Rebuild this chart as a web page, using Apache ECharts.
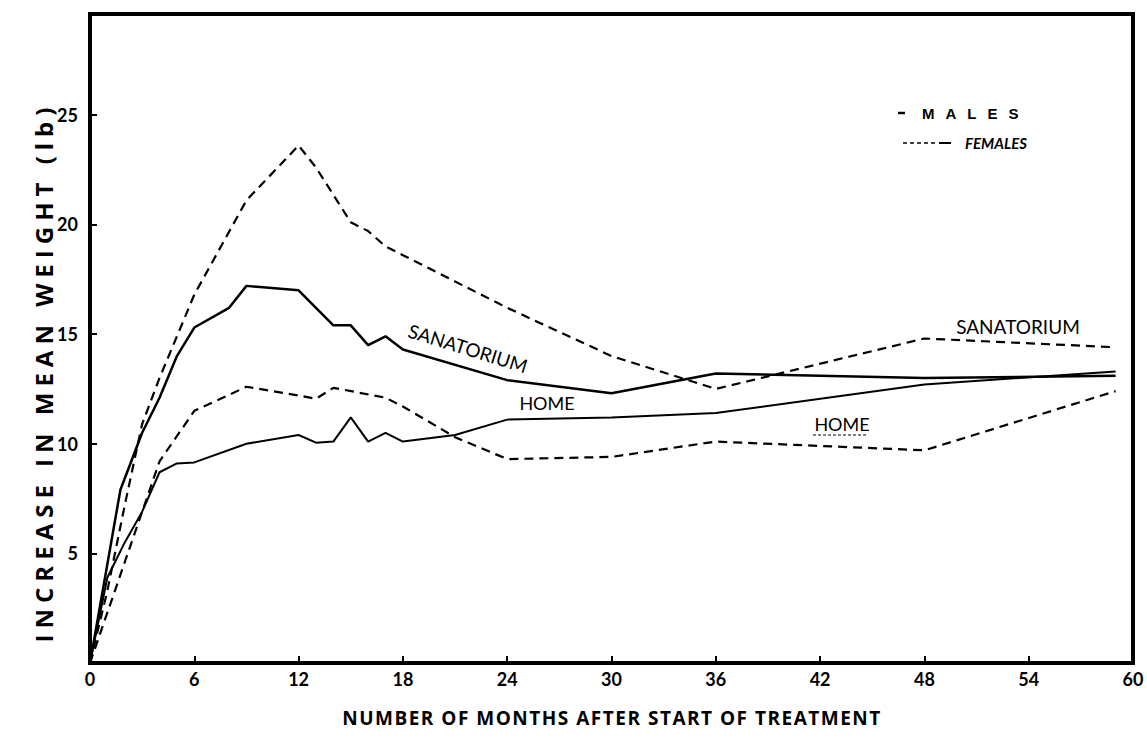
<!DOCTYPE html>
<html>
<head>
<meta charset="utf-8">
<script src="https://cdn.jsdelivr.net/npm/echarts@6/dist/echarts.min.js"></script>
<style>
html,body{margin:0;padding:0;background:#fff;}
#chart{width:1147px;height:743px;}
</style>
</head>
<body>
<div id="chart"></div>
<script>
// ---- data (months after start of treatment, increase in mean weight lb) ----
const xTicks = [0, 6, 12, 18, 24, 30, 36, 42, 48, 54, 60];
const yTicks = [5, 10, 15, 20, 25];

const femSanMonths = [0, 1, 2, 3, 4, 6, 9, 12, 13, 15, 16, 17, 18, 21, 24, 30, 36, 48, 59];
const femSanValues = [0, 3.3, 7.2, 10.9, 13.0, 16.8, 21.1, 23.6, 22.6, 20.1, 19.7, 19.0, 18.6, 17.4, 16.2, 14.0, 12.5, 14.8, 14.4];

const maleSanMonths = [0, 1.75, 3, 4, 5, 6, 8, 9, 12, 13, 14, 15, 16, 17, 18, 24, 30, 36, 48, 59];
const maleSanValues = [0, 7.9, 10.5, 12.1, 14.0, 15.3, 16.2, 17.2, 17.0, 16.2, 15.4, 15.4, 14.5, 14.9, 14.3, 12.9, 12.3, 13.2, 13.0, 13.1];

const femHomeMonths = [0, 2, 4, 6, 9, 12, 13, 14, 17, 18, 21, 24, 30, 36, 48, 59];
const femHomeValues = [0, 4.6, 9.2, 11.5, 12.6, 12.2, 12.05, 12.55, 12.1, 11.7, 10.3, 9.3, 9.4, 10.1, 9.7, 12.4];

const maleHomeMonths = [0, 1, 2, 3, 4, 5, 6, 9, 12, 13, 14, 15, 16, 17, 18, 21, 24, 30, 36, 48, 59];
const maleHomeValues = [0, 3.9, 5.5, 6.9, 8.7, 9.1, 9.15, 10.0, 10.4, 10.05, 10.1, 11.2, 10.1, 10.5, 10.1, 10.4, 11.1, 11.2, 11.4, 12.7, 13.3];

const xTitle = 'NUMBER OF MONTHS AFTER START OF TREATMENT';
const yTitle = 'INCREASE IN MEAN WEIGHT (lb)';

const zip = (xs, ys) => xs.map((x, i) => [x, ys[i]]);

const chart = echarts.init(document.getElementById('chart'), null, { renderer: 'svg' });
const FONT = 'Lato';

function lineSeries(name, xs, ys, dashed, width) {
  return {
    name: name,
    type: 'line',
    data: zip(xs, ys),
    symbol: 'none',
    smooth: false,
    animation: false,
    lineStyle: { color: '#000', width: width, type: dashed ? [9, 6] : 'solid' }
  };
}

const option = {
  backgroundColor: '#fff',
  animation: false,
  grid: { left: 90, right: 14, top: 14, bottom: 80, show: true, borderColor: '#000', borderWidth: 4, containLabel: false, outerBoundsMode: 'none' },
  xAxis: {
    type: 'value', min: 0, max: 60, interval: 6,
    axisLine: { show: true, lineStyle: { color: '#000', width: 4 } },
    axisTick: { show: true, inside: true, length: 7, lineStyle: { color: '#000', width: 2 } },
    splitLine: { show: false },
    axisLabel: {
      margin: 7, color: '#000', fontFamily: FONT, fontWeight: 'bold', fontSize: 18,
      formatter: v => xTicks.indexOf(v) >= 0 ? String(v) : ''
    }
  },
  yAxis: {
    type: 'value', min: 0, max: 29.6, interval: 5,
    axisLine: { show: true, lineStyle: { color: '#000', width: 4 } },
    axisTick: { show: true, inside: true, length: 7, lineStyle: { color: '#000', width: 2 } },
    splitLine: { show: false },
    axisLabel: {
      margin: 12, color: '#000', fontFamily: FONT, fontWeight: 'bold', fontSize: 18,
      formatter: v => yTicks.indexOf(v) >= 0 ? String(v) : ''
    }
  },
  series: [
    lineSeries('Females sanatorium', femSanMonths, femSanValues, true, 2.2),
    lineSeries('Males sanatorium', maleSanMonths, maleSanValues, false, 2.5),
    lineSeries('Females home', femHomeMonths, femHomeValues, true, 2.2),
    lineSeries('Males home', maleHomeMonths, maleHomeValues, false, 2)
  ],
  graphic: [
    { type: 'text', x: 612, y: 718,
      style: { text: xTitle, font: 'bold 19px "Open Sans"', fill: '#000', align: 'center', verticalAlign: 'middle' } },
    { type: 'text', x: 43, y: 372, rotation: Math.PI / 2,
      style: { text: yTitle, font: 'bold 24px "Open Sans"', fill: '#000', align: 'center', verticalAlign: 'middle' } },
    { type: 'text', x: 468, y: 348, rotation: -0.3,
      style: { text: 'SANATORIUM', font: '19px "Lato"', fill: '#000', align: 'center', verticalAlign: 'middle' } },
    { type: 'text', x: 547, y: 403,
      style: { text: 'HOME', font: '18px "Lato"', fill: '#000', align: 'center', verticalAlign: 'middle' } },
    { type: 'text', x: 1018, y: 326,
      style: { text: 'SANATORIUM', font: '19px "Lato"', fill: '#000', align: 'center', verticalAlign: 'middle' } },
    { type: 'text', x: 842, y: 424,
      style: { text: 'HOME', font: '18px "Lato"', fill: '#000', align: 'center', verticalAlign: 'middle' } },
    { type: 'line', shape: { x1: 813, y1: 435, x2: 868, y2: 435 }, style: { stroke: '#000', lineWidth: 1, lineDash: [3, 2] } },
    { type: 'line', shape: { x1: 898, y1: 113, x2: 905, y2: 113 }, style: { stroke: '#000', lineWidth: 2.5 } },
    { type: 'text', x: 922, y: 113,
      style: { text: 'MALES', font: 'bold 15px "Liberation Sans"', fill: '#000', align: 'left', verticalAlign: 'middle' } },
    { type: 'line', shape: { x1: 903, y1: 143, x2: 937, y2: 143 }, style: { stroke: '#000', lineWidth: 1.5, lineDash: [4, 3] } },
    { type: 'line', shape: { x1: 939, y1: 143, x2: 951, y2: 143 }, style: { stroke: '#000', lineWidth: 2 } },
    { type: 'text', x: 965, y: 143,
      style: { text: 'FEMALES', font: 'italic bold 15px "Lato"', fill: '#000', align: 'left', verticalAlign: 'middle' } }
  ]
};
chart.setOption(option);

// letter spacing of the spaced-out titles (SVG text)
const spacing = {};
spacing[xTitle] = '1.5px';
spacing[yTitle] = '6px';
spacing['MALES'] = '11px';
document.querySelectorAll('#chart text').forEach(t => {
  const s = spacing[t.textContent];
  if (s) { t.style.letterSpacing = s; t.setAttribute('letter-spacing', s); }
});
</script>
</body>
</html>
